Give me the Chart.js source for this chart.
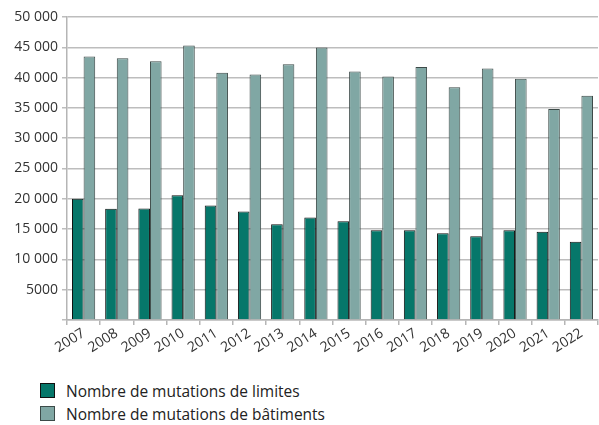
<!DOCTYPE html>
<html>
<head>
<meta charset="utf-8">
<script src="https://cdn.jsdelivr.net/npm/chart.js@4"></script>
<style>
    body { margin: 0; background: #fff; font-family: "Open Sans", sans-serif; }
    #wrap { position: relative; width: 599px; height: 360px; }
    #legende { margin: 19px 0 0 40px; }
    .item { display: flex; align-items: center; height: 23px; font-size: 15.5px; color: #222; }
    .carre { width: 15px; height: 15px; margin-right: 11px; box-sizing: border-box; }
</style>
</head>
<body>
<div id="wrap"><canvas id="grafico" width="599" height="360"></canvas></div>
<div id="legende"></div>
<script>
const annees = ['2007', '2008', '2009', '2010', '2011', '2012', '2013', '2014',
    '2015', '2016', '2017', '2018', '2019', '2020', '2021', '2022'];
const mutationsLimites = [20000, 18350, 18400, 20600, 18900, 17900, 15800, 16900,
    16300, 14800, 14800, 14300, 13800, 14800, 14550, 12900];
const mutationsBatiments = [43500, 43200, 42700, 45300, 40800, 40500, 42200, 44950,
    41000, 40200, 41750, 38400, 41500, 39800, 34800, 37000];
const nomsSeries = ['Nombre de mutations de limites', 'Nombre de mutations de bâtiments'];

function formaterNombre(v) {
    // espace comme séparateur de milliers, sauf pour 5000
    if (v >= 10000) return String(v).replace(/\B(?=(\d{3})+(?!\d))/g, ' ');
    return v === 0 ? '' : String(v);
}

const couleurs = [
    { fond: '#06776a', bord: '#111' },
    { fond: '#80a7a4', bord: '#3c4a48' }
];

const ctx = document.getElementById('grafico').getContext('2d');
new Chart(ctx, {
    type: 'bar',
    data: {
        labels: annees,
        datasets: [
            {
                label: nomsSeries[0],
                data: mutationsLimites,
                backgroundColor: couleurs[0].fond,
                borderColor: couleurs[0].bord,
                borderWidth: 1,
            },
            {
                label: nomsSeries[1],
                data: mutationsBatiments,
                backgroundColor: couleurs[1].fond,
                borderColor: couleurs[1].bord,
                borderWidth: 1,
            }
        ]
    },
    options: {
        responsive: false,
        animation: false,
        layout: { padding: { top: 17, right: 1 } },
        datasets: { bar: { barPercentage: 1, categoryPercentage: 0.7 } },
        plugins: {
            legend: { display: false },
            tooltip: { enabled: false },
        },
        scales: {
            x: {
                afterFit: (s) => { s.height = 40; },
                grid: {
                    drawOnChartArea: false,
                    color: '#b5b5b5',
                    lineWidth: 1.5,
                    tickLength: 5,
                    offset: true,
                },
                border: { color: '#b5b5b5', width: 1.5 },
                ticks: {
                    autoSkip: false,
                    minRotation: 32,
                    maxRotation: 32,
                    padding: 0,
                    color: '#333',
                    font: { family: 'Open Sans', size: 14 },
                },
            },
            y: {
                min: 0,
                max: 50000,
                afterFit: (s) => { s.width = 67; },
                grid: {
                    color: '#bdbdbd',
                    lineWidth: 1.5,
                    tickLength: 5,
                },
                border: { color: '#b5b5b5', width: 1.5 },
                ticks: {
                    stepSize: 5000,
                    padding: 4,
                    color: '#333',
                    font: { family: 'Open Sans', size: 14 },
                    callback: (v) => formaterNombre(v),
                },
            },
        },
    }
});

const legende = document.getElementById('legende');
nomsSeries.forEach((nom, i) => {
    legende.innerHTML += `<div class="item"><span class="carre" style="background:${couleurs[i].fond};border:1px solid ${couleurs[i].bord}"></span>${nom}</div>`;
});
</script>
</body>
</html>
